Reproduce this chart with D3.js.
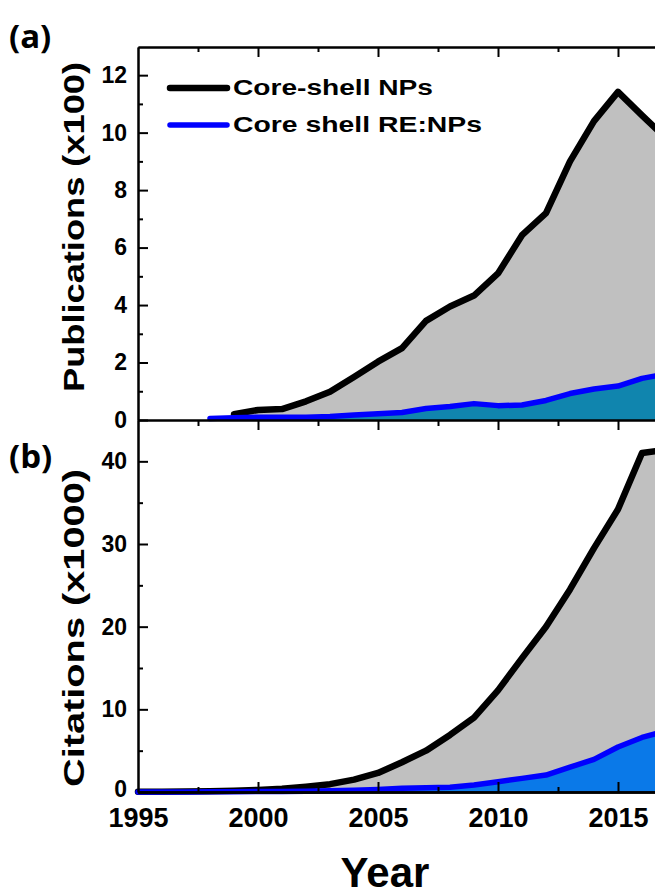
<!DOCTYPE html>
<html><head><meta charset="utf-8">
<script src="https://cdn.jsdelivr.net/npm/d3@7"></script>
<style>
html,body{margin:0;padding:0;background:#fff;overflow:hidden;}
text{font-family:"Liberation Sans",Arial,sans-serif;font-weight:bold;}
</style></head>
<body>
<svg id="chart" width="655" height="896"></svg>
<script>
// ---------- data ----------
const years = [1995,1996,1997,1998,1999,2000,2001,2002,2003,2004,2005,2006,2007,2008,2009,2010,2011,2012,2013,2014,2015,2016,2017];
// Publications (x100)
const pubCoreShell = [null,null,null,null,0.2,0.35,0.38,0.65,0.98,1.5,2.03,2.5,3.45,3.95,4.33,5.1,6.43,7.2,9.0,10.4,11.42,10.6,9.8];
const pubRE        = [null,null,null,0.05,0.08,0.1,0.1,0.1,0.12,0.17,0.22,0.26,0.4,0.47,0.57,0.5,0.52,0.68,0.92,1.08,1.18,1.45,1.6];
// Citations (x1000)
const citCoreShell = [0.02,0.03,0.05,0.08,0.15,0.25,0.4,0.65,0.95,1.5,2.3,3.6,5.0,6.9,9.0,12.3,16.2,20.0,24.5,29.5,34.2,41.0,41.4];
const citRE        = [0.01,0.01,0.01,0.02,0.03,0.05,0.07,0.1,0.15,0.2,0.3,0.45,0.5,0.57,0.85,1.25,1.65,2.05,3.0,3.95,5.45,6.6,7.4];
const seriesNames = ["Core-shell NPs","Core shell RE:NPs"];
const xMajorTicks = [1995,2000,2005,2010,2015];
const xMinorTicks = [1997.5,2002.5,2007.5,2012.5];
const pubMajorTicks = [0,2,4,6,8,10,12];
const pubMinorTicks = [1,3,5,7,9,11];
const citMajorTicks = [0,10,20,30,40];
const citMinorTicks = [5,15,25,35];

// ---------- layout ----------
const svg = d3.select("#chart");
const x = d3.scaleLinear().domain([1995, 2017.5]).range([138, 678]);
const yPub = d3.scaleLinear().domain([0, 12.98]).range([420, 47]);
const yCit = d3.scaleLinear().domain([0, 45]).range([792, 420]);

function panel(yScale, black, blue, fillBlue) {
  const g = svg.append("g");
  const pts = (arr) => years.map((yr,i)=>({x:yr,v:arr[i]})).filter(d=>d.v!==null);
  const area = d3.area().x(d=>x(d.x)).y0(yScale(0)).y1(d=>yScale(d.v));
  const line = d3.line().x(d=>x(d.x)).y(d=>yScale(d.v));
  g.append("path").datum(pts(black)).attr("d",area).attr("fill","#c0c0c0");
  g.append("path").datum(pts(blue)).attr("d",area).attr("fill",fillBlue);
  g.append("path").datum(pts(black)).attr("d",line).attr("fill","none")
    .attr("stroke","#000").attr("stroke-width",6.5).attr("stroke-linejoin","round").attr("stroke-linecap","round");
  g.append("path").datum(pts(blue)).attr("d",line).attr("fill","none")
    .attr("stroke","#0000ff").attr("stroke-width",5.5).attr("stroke-linejoin","round").attr("stroke-linecap","round");
}
panel(yPub, pubCoreShell, pubRE, "#1085ae");
panel(yCit, citCoreShell, citRE, "#0a79e8");

function styleAxis(g, w) {
  g.selectAll("path.domain").attr("stroke","#000").attr("stroke-width",w);
  g.selectAll(".tick line").attr("stroke","#000").attr("stroke-width",2);
}

let a;
// top panel y axis
a = svg.append("g").attr("transform","translate(138,0)")
  .call(d3.axisLeft(yPub).tickValues(pubMajorTicks).tickSize(-10).tickSizeOuter(0).tickPadding(11));
styleAxis(a,2);
a.selectAll("text").attr("font-size",23).attr("fill","#000").attr("font-weight","bold");
a = svg.append("g").attr("transform","translate(138,0)")
  .call(d3.axisLeft(yPub).tickValues(pubMinorTicks).tickSize(-5).tickSizeOuter(0).tickFormat(""));
styleAxis(a,2);

// bottom panel y axis
a = svg.append("g").attr("transform","translate(138,0)")
  .call(d3.axisLeft(yCit).tickValues(citMajorTicks).tickSize(-10).tickSizeOuter(0).tickPadding(11));
styleAxis(a,2);
a.selectAll("text").attr("font-size",23).attr("fill","#000").attr("font-weight","bold");
a.selectAll(".tick").filter(d=>d===0).select("text").attr("y",-3);
a = svg.append("g").attr("transform","translate(138,0)")
  .call(d3.axisLeft(yCit).tickValues(citMinorTicks).tickSize(-5).tickSizeOuter(0).tickFormat(""));
styleAxis(a,2);

// top border of panel (a)
a = svg.append("g").attr("transform","translate(0,47)")
  .call(d3.axisBottom(x).tickValues(xMajorTicks.filter(d=>d>1995)).tickSize(10).tickSizeOuter(0).tickFormat(""));
styleAxis(a,2);
a = svg.append("g").attr("transform","translate(0,47)")
  .call(d3.axisBottom(x).tickValues(xMinorTicks).tickSize(5).tickSizeOuter(0).tickFormat(""));
styleAxis(a,2);

// shared middle axis
a = svg.append("g").attr("transform","translate(0,420)")
  .call(d3.axisBottom(x).tickValues(xMajorTicks.filter(d=>d>1995)).tickSize(10).tickSizeOuter(0).tickFormat(""));
styleAxis(a,2);
a = svg.append("g").attr("transform","translate(0,420)")
  .call(d3.axisBottom(x).tickValues(xMinorTicks).tickSize(6).tickSizeOuter(0).tickFormat(""));
styleAxis(a,2);

// bottom x axis
a = svg.append("g").attr("transform","translate(0,792)")
  .call(d3.axisBottom(x).tickValues(xMajorTicks).tickSize(-10).tickSizeOuter(0).tickPadding(16).tickFormat(d3.format("d")));
styleAxis(a,2.5);
a.selectAll("text").attr("font-size",27).attr("fill","#000").attr("font-weight","bold");
a.selectAll(".tick").filter(d=>d===1995).select("line").remove();
a = svg.append("g").attr("transform","translate(0,792)")
  .call(d3.axisBottom(x).tickValues(xMinorTicks).tickSize(-5).tickSizeOuter(0).tickFormat(""));
styleAxis(a,2.5);

// axis titles
svg.append("text").attr("transform","translate(84,227) rotate(-90)")
  .attr("text-anchor","middle").attr("font-size",29)
  .attr("textLength",330).attr("lengthAdjust","spacingAndGlyphs")
  .text("Publications (x100)");
svg.append("text").attr("transform","translate(84,628) rotate(-90)")
  .attr("text-anchor","middle").attr("font-size",29)
  .attr("textLength",318).attr("lengthAdjust","spacingAndGlyphs")
  .text("Citations (x1000)");
svg.append("text").attr("x",385).attr("y",887).attr("text-anchor","middle")
  .attr("font-size",42).text("Year");

// panel labels
svg.append("text").attr("x",9).attr("y",48).attr("font-size",33)
  .style("font-family","'Open Sans',sans-serif").attr("font-weight","bold").text("(a)");
svg.append("text").attr("x",9).attr("y",468).attr("font-size",33)
  .style("font-family","'Open Sans',sans-serif").attr("font-weight","bold").text("(b)");

// legend
const legColors = ["#000","#0000ff"];
const legY = [88,125];
const legLen = [200,249];
seriesNames.forEach((name,i)=>{
  svg.append("line").attr("x1",170).attr("x2",227).attr("y1",legY[i]).attr("y2",legY[i])
    .attr("stroke",legColors[i]).attr("stroke-width",i===0?6.5:5.5).attr("stroke-linecap","round");
  svg.append("text").attr("x",233).attr("y",legY[i]+7).attr("font-size",22)
    .attr("textLength",legLen[i]).attr("lengthAdjust","spacingAndGlyphs").text(name);
});
</script>
</body></html>
